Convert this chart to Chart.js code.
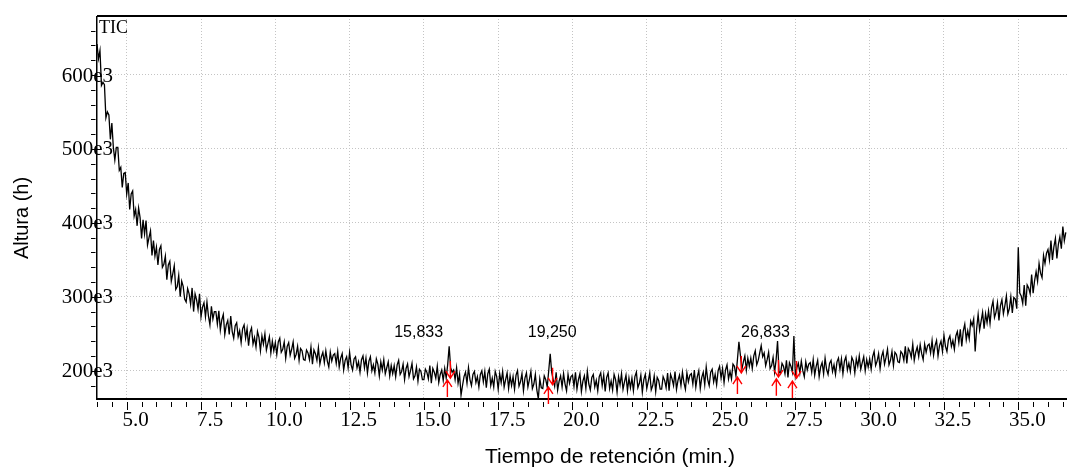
<!DOCTYPE html>
<html>
<head>
<meta charset="utf-8">
<script src="https://cdn.jsdelivr.net/npm/chart.js@4.4.1/dist/chart.umd.min.js"></script>
<style>
  html, body { margin: 0; padding: 0; background: #fff; }
  canvas { display: block; }
</style>
</head>
<body>
<canvas id="tic" width="1067" height="468"></canvas>
<script>
// TIC trace, one reading every 0.05 min starting at 4.0 min, heights in e3
const startMin = 4.0;
const stepMin = 0.05;
const ticHeights = [
    642, 622, 633, 586, 590, 587, 542, 550, 546, 513, 535, 502, 485, 502, 502, 471, 475, 448, 467, 468,
    439, 454, 418, 439, 443, 409, 418, 396, 420, 407, 379, 404, 385, 403, 370, 380, 389, 356, 376, 355,
    367, 343, 364, 369, 340, 344, 355, 323, 343, 348, 321, 331, 342, 310, 314, 329, 300, 321, 314, 297,
    293, 311, 304, 290, 312, 280, 304, 296, 283, 304, 273, 286, 292, 273, 293, 274, 262, 287, 270, 280,
    280, 263, 281, 255, 269, 276, 249, 262, 268, 249, 274, 253, 244, 261, 265, 246, 254, 238, 257, 262,
    244, 257, 234, 252, 258, 236, 245, 232, 253, 245, 227, 247, 236, 250, 228, 237, 246, 224, 240, 227,
    238, 222, 239, 244, 225, 229, 239, 217, 233, 238, 221, 229, 239, 217, 222, 233, 214, 230, 227, 215,
    214, 228, 224, 215, 232, 209, 228, 223, 214, 231, 209, 219, 225, 211, 227, 213, 205, 225, 213, 221,
    223, 210, 226, 205, 217, 223, 201, 214, 219, 204, 225, 208, 201, 216, 219, 204, 212, 198, 215, 220,
    204, 217, 197, 213, 219, 200, 208, 197, 216, 209, 193, 212, 201, 215, 196, 204, 212, 193, 207, 196,
    207, 192, 208, 214, 195, 199, 209, 188, 203, 209, 192, 200, 210, 189, 193, 205, 186, 202, 199, 188,
    188, 202, 198, 189, 207, 183, 203, 198, 190, 206, 184, 195, 201, 187, 203, 190, 208, 233, 204, 198,
    201, 188, 204, 183, 195, 167, 180, 192, 198, 183, 204, 188, 180, 195, 199, 184, 192, 178, 195, 200,
    185, 199, 177, 196, 202, 180, 190, 178, 199, 192, 175, 196, 184, 199, 178, 188, 197, 176, 193, 180,
    192, 175, 194, 200, 179, 185, 196, 173, 190, 197, 178, 188, 199, 176, 182, 195, 174, 162, 189, 177,
    176, 193, 188, 178, 200, 223, 198, 188, 179, 198, 174, 186, 193, 178, 196, 182, 173, 195, 183, 192,
    194, 179, 198, 175, 188, 196, 172, 186, 193, 176, 199, 182, 174, 191, 195, 178, 187, 173, 192, 197,
    180, 194, 172, 191, 197, 176, 186, 174, 195, 188, 171, 192, 181, 196, 175, 185, 194, 173, 190, 177,
    190, 173, 192, 198, 177, 183, 194, 171, 188, 195, 176, 186, 197, 174, 180, 193, 172, 191, 187, 175,
    175, 192, 187, 177, 197, 173, 195, 189, 180, 199, 175, 187, 194, 180, 198, 184, 175, 197, 185, 194,
    196, 182, 201, 178, 192, 200, 176, 191, 198, 181, 205, 188, 180, 198, 202, 185, 195, 181, 200, 206,
    190, 203, 184, 201, 208, 189, 199, 189, 209, 206, 193, 215, 239, 221, 202, 212, 220, 201, 217, 206,
    217, 203, 220, 227, 208, 214, 224, 234, 219, 224, 207, 215, 225, 203, 207, 218, 198, 214, 240, 199,
    196, 210, 206, 196, 214, 191, 211, 206, 198, 247, 193, 204, 210, 197, 213, 200, 192, 212, 201, 209,
    211, 198, 215, 194, 206, 214, 192, 205, 211, 196, 217, 202, 195, 210, 214, 199, 208, 195, 212, 217,
    202, 216, 196, 213, 219, 201, 210, 199, 218, 213, 197, 216, 206, 220, 202, 211, 219, 200, 215, 205,
    216, 202, 219, 226, 207, 213, 223, 203, 219, 226, 209, 218, 229, 208, 214, 226, 207, 225, 222, 212,
    211, 226, 223, 214, 233, 210, 230, 226, 218, 236, 214, 225, 232, 219, 235, 223, 215, 236, 225, 234,
    236, 224, 241, 221, 234, 241, 220, 234, 240, 226, 248, 233, 226, 242, 247, 233, 241, 229, 247, 253,
    238, 256, 233, 254, 263, 242, 254, 243, 267, 261, 270, 226, 257, 276, 255, 267, 279, 257, 277, 265,
    281, 264, 285, 294, 272, 279, 292, 268, 288, 296, 277, 288, 301, 277, 284, 300, 278, 299, 297, 284,
    367, 305, 301, 291, 316, 288, 316, 312, 304, 330, 305, 322, 334, 321, 345, 332, 326, 356, 345, 359,
    364, 350, 376, 350, 368, 379, 352, 371, 381, 365, 395, 376, 387
];

const xTickValues = [5.0, 7.5, 10.0, 12.5, 15.0, 17.5, 20.0, 22.5, 25.0, 27.5, 30.0, 32.5, 35.0];
const yTickValues = [200, 300, 400, 500, 600];

const peakTimes = [15.833, 19.250, 26.833];

// red integration marks (down arrow above, up arrow below)
const markDownTimes = [15.89, 19.33, 25.68, 26.93, 27.54];
const markDownHeights = [190.0, 181.0, 197.0, 191.5, 190.0];
const markUpTimes = [15.79, 19.19, 25.55, 26.86, 27.40];
const markUpHeights = [187.5, 178.0, 191.5, 189.0, 186.0];

const points = ticHeights.map((h, i) => ({ x: startMin + i * stepMin, y: h }));

const serif = '"Liberation Serif", "Times New Roman", serif';
const sans = '"Liberation Sans", Arial, sans-serif';

function arrow(ctx, px, py, dir) {
    // dir 1: points down onto (px, py), -1: points up
    ctx.moveTo(px, py - dir * 17);
    ctx.lineTo(px, py);
    ctx.moveTo(px - 4.5, py - dir * 7);
    ctx.lineTo(px, py);
    ctx.lineTo(px + 4.5, py - dir * 7);
}

const chromPlugin = {
    id: 'chrom',
    afterDraw(chart, args, opts) {
        const ctx = chart.ctx;
        const xs = chart.scales.x;
        const ys = chart.scales.y;
        const area = chart.chartArea;
        ctx.save();

        // y labels sit across the axis line ("600" left of it, "e3" right)
        ctx.fillStyle = '#000';
        ctx.font = '21px ' + serif;
        ctx.textAlign = 'right';
        ctx.textBaseline = 'middle';
        yTickValues.forEach(v => {
            ctx.fillText(v + 'e3', area.left + 16, ys.getPixelForValue(v) + 1);
        });

        // frame: top, left and bottom lines
        ctx.strokeStyle = '#000';
        ctx.lineWidth = 2;
        ctx.beginPath();
        ctx.moveTo(area.left, area.top);
        ctx.lineTo(area.right, area.top);
        ctx.moveTo(area.left, area.bottom - 1);
        ctx.lineTo(area.right, area.bottom - 1);
        ctx.stroke();
        ctx.lineWidth = 1.5;
        ctx.beginPath();
        ctx.moveTo(area.left - 0.25, area.top);
        ctx.lineTo(area.left - 0.25, area.bottom);
        ctx.stroke();

        // tick marks, minor every 0.5 min / 20e3
        ctx.lineWidth = 1;
        ctx.beginPath();
        for (let k = Math.ceil(xs.min * 2); k / 2 <= xs.max; k++) {
            const px = Math.round(xs.getPixelForValue(k / 2)) + 0.5;
            const len = (k % 5 === 0) ? 8 : 5;
            ctx.moveTo(px, area.bottom + 2);
            ctx.lineTo(px, area.bottom + 2 + len);
        }
        for (let v = Math.ceil(ys.min / 20) * 20; v <= ys.max; v += 20) {
            const py = Math.round(ys.getPixelForValue(v)) + 0.5;
            ctx.moveTo(area.left - 6, py);
            ctx.lineTo(area.left - 1.5, py);
        }
        ctx.stroke();

        // red integration marks
        ctx.strokeStyle = '#ff0000';
        ctx.lineWidth = 1.4;
        ctx.beginPath();
        markDownTimes.forEach((t, i) => {
            arrow(ctx, xs.getPixelForValue(t), ys.getPixelForValue(markDownHeights[i]), 1);
        });
        markUpTimes.forEach((t, i) => {
            arrow(ctx, xs.getPixelForValue(t), ys.getPixelForValue(markUpHeights[i]), -1);
        });
        ctx.stroke();

        // peak retention time labels
        ctx.font = '16px ' + sans;
        ctx.textAlign = 'center';
        ctx.textBaseline = 'middle';
        peakTimes.forEach((t, i) => {
            const px = xs.getPixelForValue(t) + opts.labelShift[i];
            ctx.fillText(t.toFixed(3).replace('.', ','), px, ys.getPixelForValue(opts.labelHeight));
        });

        // trace name
        ctx.font = '18px ' + serif;
        ctx.textAlign = 'left';
        ctx.textBaseline = 'alphabetic';
        ctx.fillText('TIC', area.left + 2, area.top + 17);

        // axis titles
        ctx.font = '21px ' + sans;
        ctx.textAlign = 'center';
        ctx.fillText('Tiempo de retención (min.)', 610, 463);
        ctx.font = '20px ' + sans;
        ctx.translate(28, 218);
        ctx.rotate(-Math.PI / 2);
        ctx.fillText('Altura (h)', 0, 0);
        ctx.restore();
    }
};

new Chart(document.getElementById('tic'), {
    type: 'line',
    data: {
        datasets: [{
            data: points,
            borderColor: '#000',
            borderWidth: 1.3,
            pointRadius: 0,
            tension: 0,
        }]
    },
    options: {
        responsive: false,
        animation: false,
        devicePixelRatio: 1,
        layout: { padding: { top: 16, left: 0, right: 0, bottom: 0 } },
        plugins: {
            legend: { display: false },
            tooltip: { enabled: false },
            chrom: { labelShift: [-30, 2, -10], labelHeight: 252 },
        },
        scales: {
            x: {
                type: 'linear',
                min: 4.0,
                max: 36.64,
                afterFit: (scale) => { scale.height = 68; },
                afterBuildTicks: (scale) => { scale.ticks = xTickValues.map(v => ({ value: v })); },
                grid: { color: '#c4c4c4', lineWidth: 1, drawTicks: false },
                border: { display: false, dash: [1, 2] },
                ticks: {
                    font: { family: serif, size: 21 },
                    color: '#000',
                    padding: 8,
                    labelOffset: 9,
                    autoSkip: false,
                    maxRotation: 0,
                    callback: (v) => Number(v).toFixed(1),
                }
            },
            y: {
                type: 'linear',
                min: 160.4,
                max: 679.8,
                afterFit: (scale) => { scale.width = 97; },
                afterBuildTicks: (scale) => { scale.ticks = yTickValues.map(v => ({ value: v })); },
                grid: { color: '#c4c4c4', lineWidth: 1, drawTicks: false },
                border: { display: false, dash: [1, 2] },
                ticks: { display: false }
            }
        }
    },
    plugins: [chromPlugin]
});
</script>
</body>
</html>
